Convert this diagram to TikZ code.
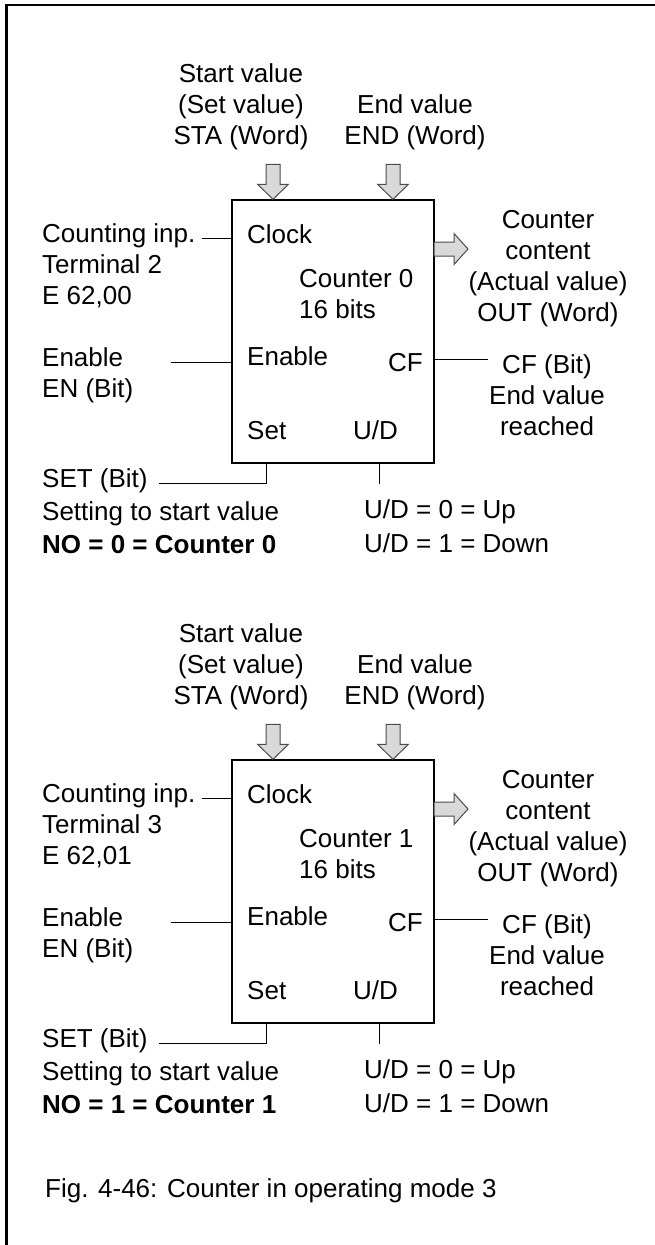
\documentclass[tikz,border=0pt]{standalone}
\usepackage{fontspec}
\setmainfont{Liberation Sans}
\usetikzlibrary{positioning}

\begin{document}
\begin{tikzpicture}[
    x=1pt, y=-1pt,
    txt/.style={inner sep=0pt, font=\fontsize{26}{31}\selectfont},
    counter/.style={rectangle, draw, line width=1.5pt, minimum width=202pt, minimum height=263pt, inner sep=0pt},
    wire/.style={line width=1pt},
    inarrow/.pic={\draw[line width=1pt, draw=black!70, fill=gray!30] (0,0) -- (-15.5,-15) -- (-7,-15) -- (-7,-35) -- (7,-35) -- (7,-15) -- (15.5,-15) -- cycle;},
    outarrow/.pic={\draw[line width=1pt, draw=black!70, fill=gray!30] (0,-7) -- (20,-7) -- (20,-15.5) -- (34,0) -- (20,15.5) -- (20,7) -- (0,7) -- cycle;}]
    \useasboundingbox (0,0) rectangle (655,1245);
    \draw[line width=2.2pt] (6.5,1245) -- (6.5,5) -- (655,5);

    % counter 0
    \node[counter] (cnt0) at (333,331.5) {};
    \pic at ([xshift=-60pt]cnt0.north) {inarrow};
    \pic at ([xshift=60pt]cnt0.north) {inarrow};
    \pic at (434,249) {outarrow};
    \node[txt, align=center, anchor=base] (sta0) at (241,144) {Start value\\(Set value)\\STA (Word)};
    \node[txt, align=center, anchor=base] (end0) at (415,144) {End value\\END (Word)};
    \node[txt, anchor=base west] (clk0) at (247,243) {Clock};
    \node[txt, align=left, anchor=base west] (name0) at (299,318) {Counter 0\\16 bits};
    \node[txt, anchor=base west] (en0) at (247,365) {Enable};
    \node[txt, anchor=base east] (cf0) at (423,371) {CF};
    \node[txt, anchor=base west] (set0) at (247,439) {Set};
    \node[txt, anchor=base west] (ud0) at (353,439) {U/D};
    \node[txt, anchor=base west] (cinp0) at (42,242) {Counting inp.};
    \node[txt, align=left, anchor=base west] (term0) at (42,304) {Terminal 2\\E 62,00};
    \node[txt, align=left, anchor=base west] (enl0) at (42,397) {Enable\\EN (Bit)};
    \node[txt, anchor=base west] (setl0) at (42,487) {SET (Bit)};
    \node[txt, anchor=base west] (setd0) at (42,520) {Setting to start value};
    \node[txt, anchor=base west, font=\fontsize{26}{31}\selectfont\bfseries] (no0) at (42,553) {NO = 0 = Counter 0};
    \node[txt, align=left, anchor=base west, font=\fontsize{26}{34}\selectfont] (udl0) at (364,552) {U/D = 0 = Up\\U/D = 1 = Down};
    \node[txt, align=center, anchor=base] (outl0) at (548,321) {Counter\\content\\(Actual value)\\OUT (Word)};
    \node[txt, align=center, anchor=base] (cfl0) at (547,435) {CF (Bit)\\End value\\reached};
    \coordinate (clkin0) at (202,238);
    \coordinate (enin0) at (171,362);
    \coordinate (cfout0) at (488,359);
    \coordinate (setin0) at (159,483);
    \draw[wire] (clkin0) -- (clkin0 -| cnt0.west);
    \draw[wire] (enin0) -- (enin0 -| cnt0.west);
    \draw[wire] (cfout0 -| cnt0.east) -- (cfout0);
    \draw[wire] (setin0) -| ([xshift=-67pt]cnt0.south);
    \draw[wire] ([xshift=46pt]cnt0.south) -- ++(0,20);

    % counter 1
    \node[counter] (cnt1) at (333,891.5) {};
    \pic at ([xshift=-60pt]cnt1.north) {inarrow};
    \pic at ([xshift=60pt]cnt1.north) {inarrow};
    \pic at (434,809) {outarrow};
    \node[txt, align=center, anchor=base] (sta1) at (241,704) {Start value\\(Set value)\\STA (Word)};
    \node[txt, align=center, anchor=base] (end1) at (415,704) {End value\\END (Word)};
    \node[txt, anchor=base west] (clk1) at (247,803) {Clock};
    \node[txt, align=left, anchor=base west] (name1) at (299,878) {Counter 1\\16 bits};
    \node[txt, anchor=base west] (en1) at (247,925) {Enable};
    \node[txt, anchor=base east] (cf1) at (423,931) {CF};
    \node[txt, anchor=base west] (set1) at (247,999) {Set};
    \node[txt, anchor=base west] (ud1) at (353,999) {U/D};
    \node[txt, anchor=base west] (cinp1) at (42,802) {Counting inp.};
    \node[txt, align=left, anchor=base west] (term1) at (42,864) {Terminal 3\\E 62,01};
    \node[txt, align=left, anchor=base west] (enl1) at (42,957) {Enable\\EN (Bit)};
    \node[txt, anchor=base west] (setl1) at (42,1047) {SET (Bit)};
    \node[txt, anchor=base west] (setd1) at (42,1080) {Setting to start value};
    \node[txt, anchor=base west, font=\fontsize{26}{31}\selectfont\bfseries] (no1) at (42,1113) {NO = 1 = Counter 1};
    \node[txt, align=left, anchor=base west, font=\fontsize{26}{34}\selectfont] (udl1) at (364,1112) {U/D = 0 = Up\\U/D = 1 = Down};
    \node[txt, align=center, anchor=base] (outl1) at (548,881) {Counter\\content\\(Actual value)\\OUT (Word)};
    \node[txt, align=center, anchor=base] (cfl1) at (547,995) {CF (Bit)\\End value\\reached};
    \coordinate (clkin1) at (202,798);
    \coordinate (enin1) at (171,922);
    \coordinate (cfout1) at (488,919);
    \coordinate (setin1) at (159,1043);
    \draw[wire] (clkin1) -- (clkin1 -| cnt1.west);
    \draw[wire] (enin1) -- (enin1 -| cnt1.west);
    \draw[wire] (cfout1 -| cnt1.east) -- (cfout1);
    \draw[wire] (setin1) -| ([xshift=-67pt]cnt1.south);
    \draw[wire] ([xshift=46pt]cnt1.south) -- ++(0,20);

    \node[txt, anchor=base west] (cap) at (45,1197) {Fig. 4-46: Counter in operating mode 3};
\end{tikzpicture}
\end{document}
